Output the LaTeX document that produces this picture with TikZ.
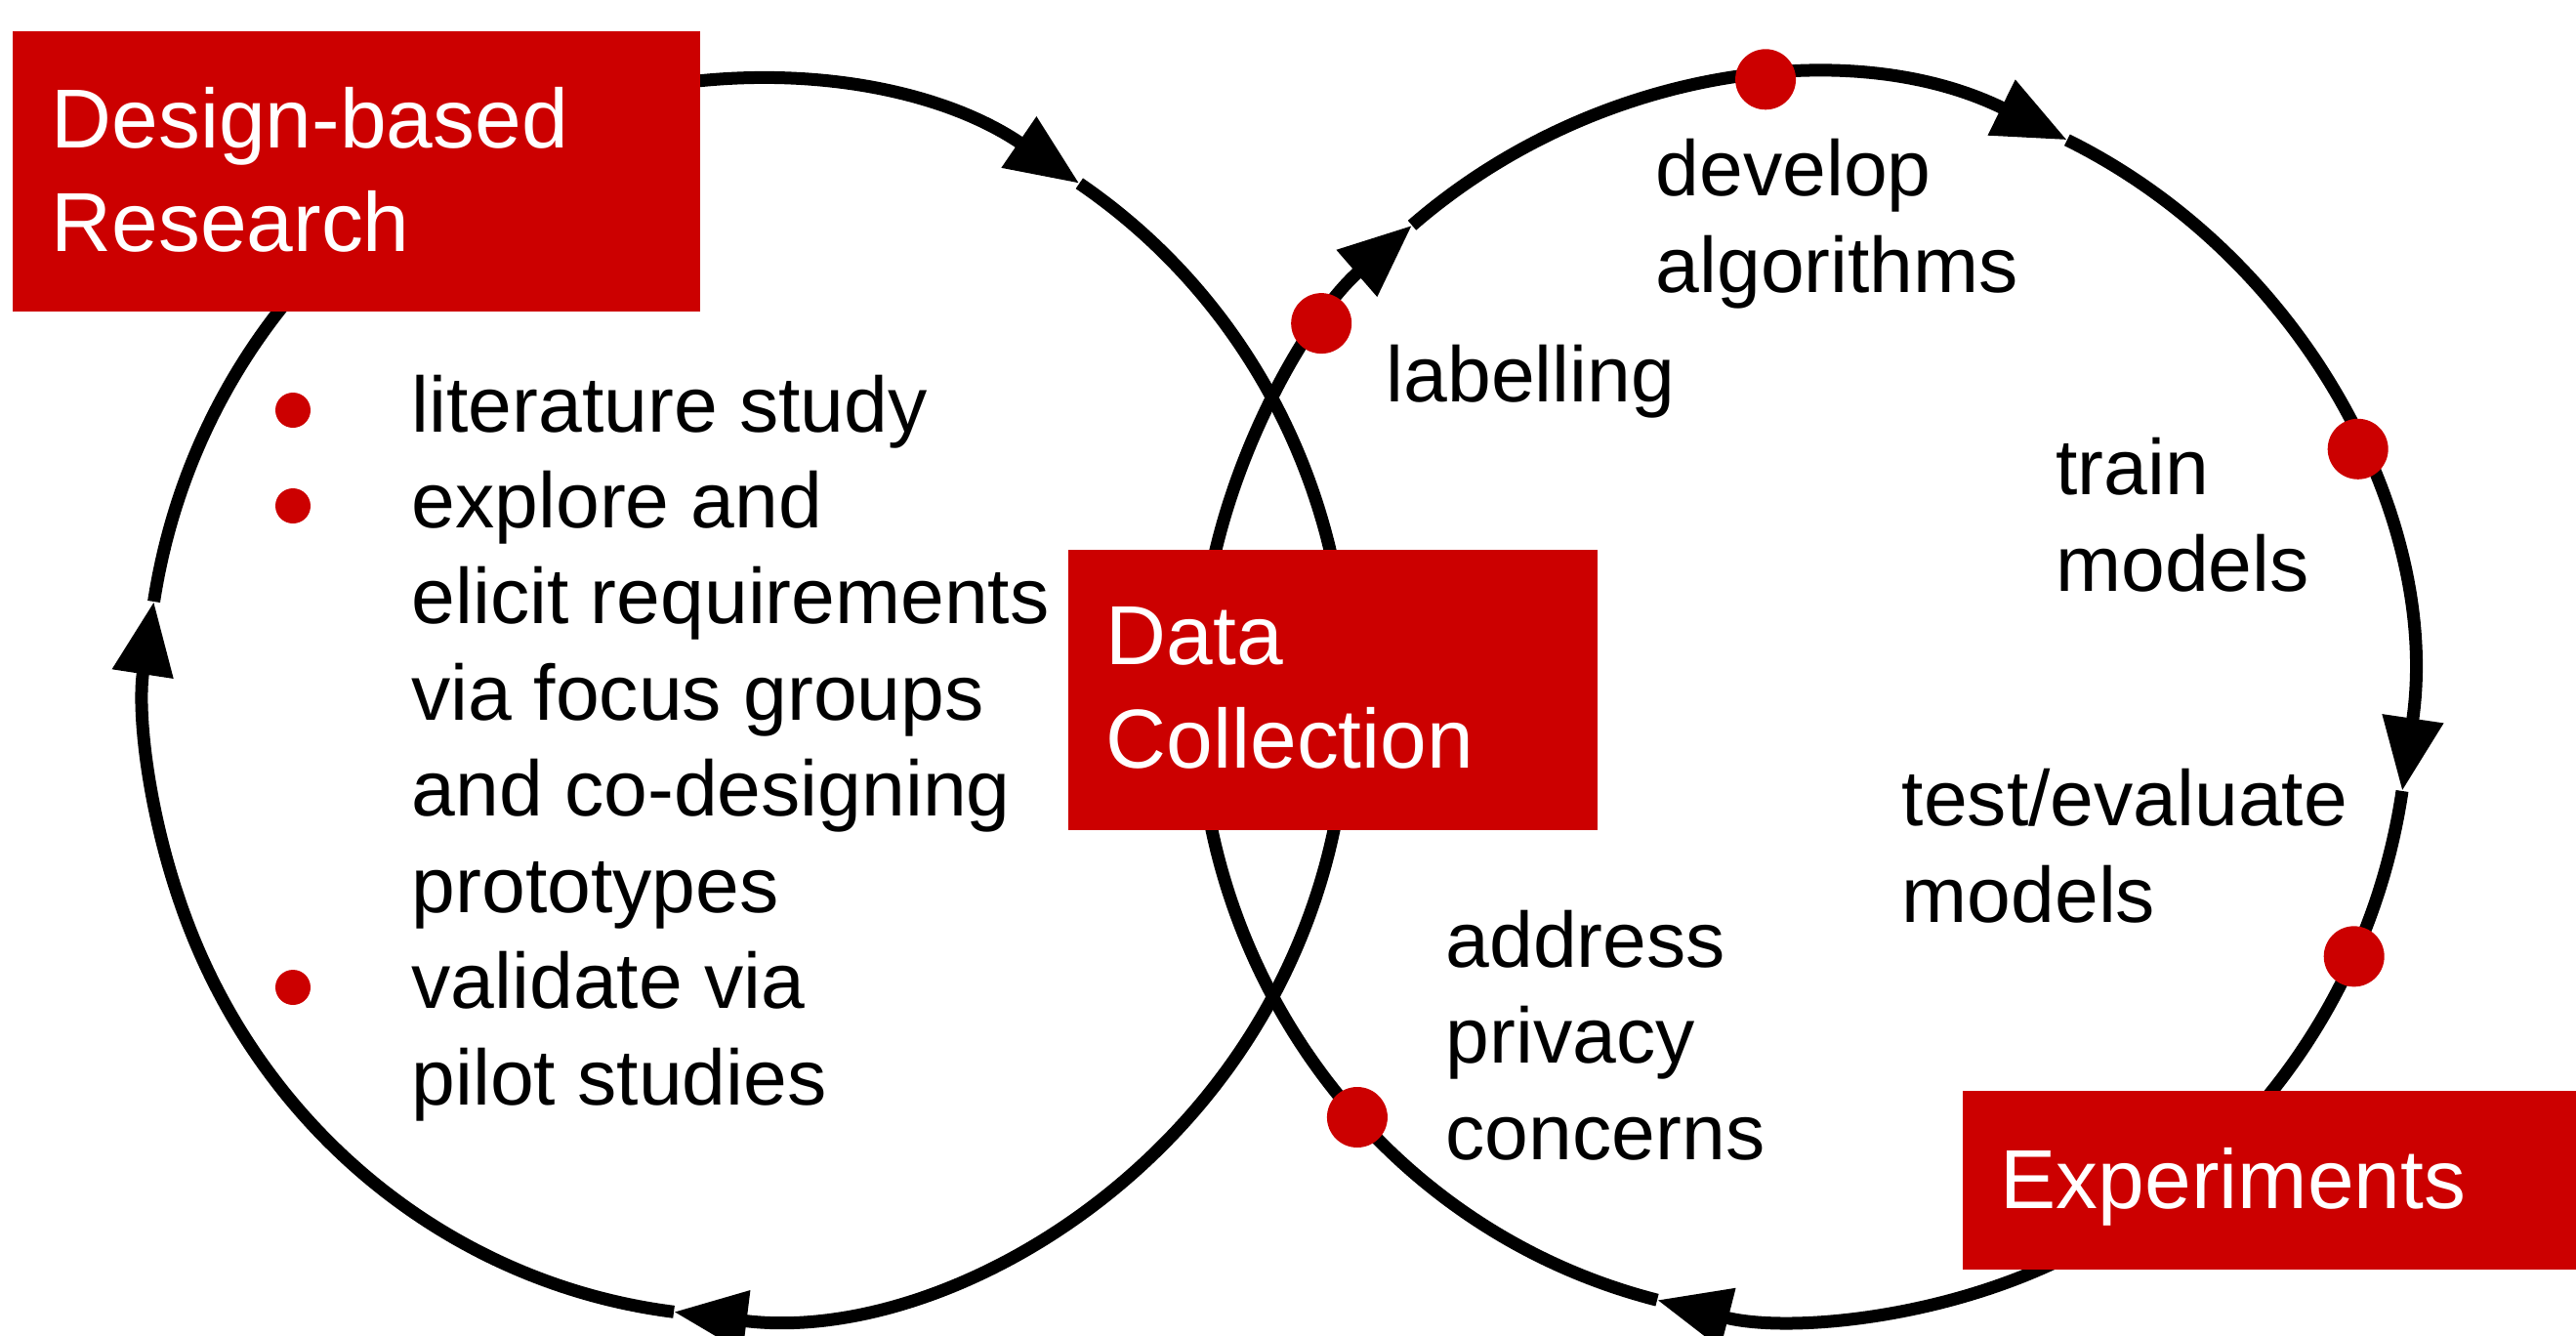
\documentclass[tikz,border=0pt]{standalone}
\usepackage{fontspec}
\setmainfont{Liberation Sans}
\usetikzlibrary{arrows.meta}
\definecolor{boxred}{HTML}{CC0000}

\begin{document}
\begin{tikzpicture}[
    arcline/.style={line width=0.13cm, -{Triangle[length=0.75cm,width=0.6cm]}},
    txt/.style={anchor=base west, inner sep=0pt, align=left, font=\fontsize{22.9}{28}\selectfont},
    boxtxt/.style={txt, text=white, font=\fontsize{24.4}{29.9}\selectfont}
  ]
      \def\cy{-7.15}
      \def\lx{7.65}
      \def\rx{18.47}

      \useasboundingbox (0,0) rectangle (26.38,-13.67);

      \foreach \a/\b in {171/56.4, 56.4/-97, -97/-189} {
        \draw[arcline, shift={(\lx,\cy)}] (\a:6.15 and 6.33) arc[start angle=\a, end angle=\b, x radius=6.15, y radius=6.33];
      }
      \foreach \a/\b in {130.3/64.2, 64.2/-8.6, -8.6/-104, -104/-229.7} {
        \draw[arcline, shift={(\rx,\cy)}] (\a:6.2 and 6.35) arc[start angle=\a, end angle=\b, x radius=6.2, y radius=6.35];
      }

      \fill[boxred] (0.13,-0.32) rectangle (7.17,-3.19);
      \fill[boxred] (10.94,-5.63) rectangle (16.36,-8.50);
      \fill[boxred] (20.10,-11.17) rectangle (26.38,-13.00);

      \foreach \t in {93.6, 142.8, 23.7, -24.6, 222.5} {
        \fill[boxred, shift={(\rx,\cy)}] (\t:6.2 and 6.35) circle (0.31);
      }
      \foreach \y in {4.20, 5.18, 10.11} {
        \fill[boxred] (3.00,-\y) circle (0.18);
      }

      \node[boxtxt] (dbr) at (0.52,-2.57) {Design-based\\Research};
      \node[boxtxt] (data) at (11.32,-7.86) {Data\\Collection};
      \node[boxtxt] (exp) at (20.48,-12.37) {Experiments};

      \node[txt] (steps) at (4.21,-11.31) {literature study\\explore and\\elicit requirements\\via focus groups\\and co-designing\\prototypes\\validate via\\pilot studies};
      \node[txt] (develop) at (16.95,-2.99) {develop\\algorithms};
      \node[txt] (labelling) at (14.19,-4.11) {labelling};
      \node[txt] (train) at (21.045,-6.05) {train\\models};
      \node[txt] (test) at (19.47,-9.44) {test/evaluate\\models};
      \node[txt] (privacy) at (14.80,-11.87) {address\\privacy\\concerns};
    \end{tikzpicture}
\end{document}
